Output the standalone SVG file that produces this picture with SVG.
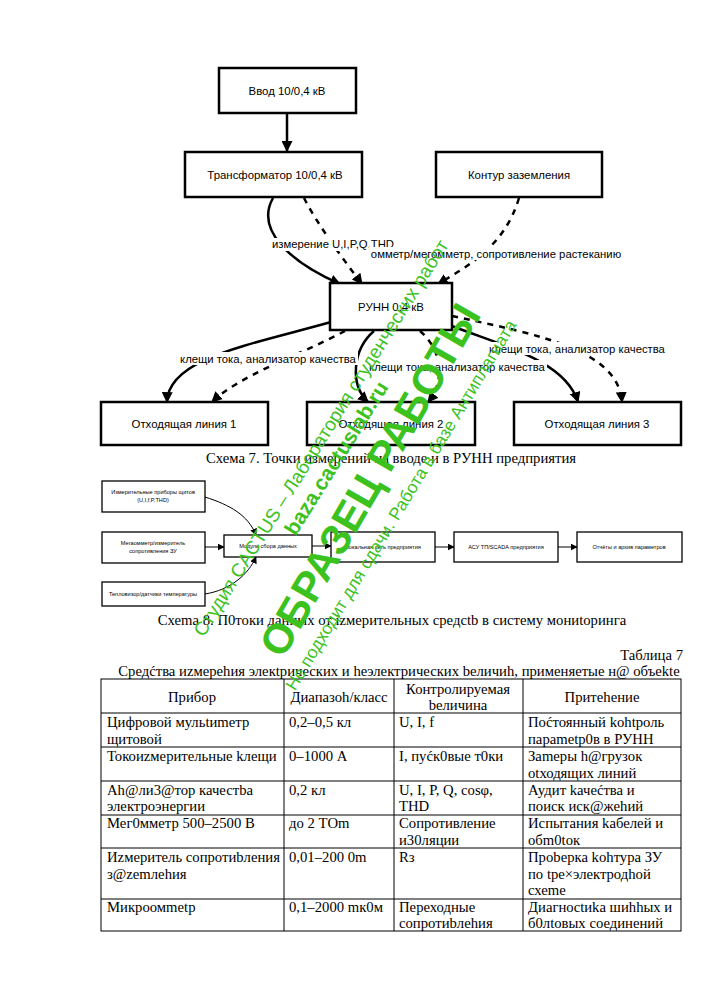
<svg xmlns="http://www.w3.org/2000/svg" width="707" height="1000" viewBox="0 0 707 1000">
<defs>
<marker id="ah" viewBox="0 0 10 10" refX="9" refY="5" markerWidth="11" markerHeight="11" markerUnits="userSpaceOnUse" orient="auto"><path d="M0,0 L10,5 L0,10 z" fill="#000"/></marker>
<marker id="ahs" viewBox="0 0 10 10" refX="9" refY="5" markerWidth="7" markerHeight="7" markerUnits="userSpaceOnUse" orient="auto"><path d="M0,0 L10,5 L0,10 z" fill="#000"/></marker>
</defs>
<style>
.b{fill:#fff;stroke:#000;stroke-width:2.5}
.bs{fill:#fff;stroke:#000;stroke-width:1.3}
.t{font-family:"Liberation Sans",Arial,sans-serif;font-size:11.4px;fill:#000;text-anchor:middle}
.el{font-family:"Liberation Sans",Arial,sans-serif;font-size:11.3px;fill:#000;text-anchor:middle}
.ts{font-family:"Liberation Sans",Arial,sans-serif;font-size:5.6px;fill:#000;text-anchor:middle}
.s{fill:none;stroke:#000;stroke-width:2.5}
.d{fill:none;stroke:#000;stroke-width:2.5;stroke-dasharray:6 6}
.s8{fill:none;stroke:#000;stroke-width:1}
.sf{font-family:"Liberation Serif","Times New Roman",serif;font-size:14.7px;fill:#000}
.c{text-anchor:middle}
.g{stroke:#000;stroke-width:1}
.wm{font-family:"Liberation Sans",Arial,sans-serif;fill:#3cc21e;text-anchor:middle;dominant-baseline:central}
</style>
<rect width="707" height="1000" fill="#fff"/>

<!-- Schema 7 connectors -->
<g id="connectors7">
<path class="s" d="M287,113 L287,151" marker-end="url(#ah)"/>
<path class="s" d="M273,198 C255,230 290,262 340,284" marker-end="url(#ah)"/>
<path class="d" d="M304,198 C318,225 340,255 362,284" marker-end="url(#ah)"/>
<path class="d" d="M519,198 C505,245 470,265 438,284" marker-end="url(#ah)"/>
<path class="s" d="M331,322 C250,345 168,358 167,402" marker-end="url(#ah)"/>
<path class="d" d="M345,331 C300,355 240,375 212,402" marker-end="url(#ah)"/>
<path class="s" d="M374,331 C352,350 350,385 368,402" marker-end="url(#ah)"/>
<path class="d" d="M420,331 C442,350 446,380 428,402" marker-end="url(#ah)"/>
<path class="s" d="M452,326 C500,345 565,360 578,402" marker-end="url(#ah)"/>
<path class="d" d="M452,316 C540,335 618,350 622,402" marker-end="url(#ah)"/>
<g id="edge-labels">
<rect x="272" y="238" width="122" height="13" fill="#fff"/>
<text class="el" x="333" y="248">измерение U,I,P,Q,THD</text>
<rect x="369" y="247" width="254" height="13" fill="#fff"/>
<text class="el" x="496" y="258">омметр/мегомметр, сопротивление растеканию</text>
<rect x="179" y="352" width="179" height="13" fill="#fff"/>
<text class="el" x="268" y="363">клещи тока, анализатор качества</text>
<rect x="368" y="360" width="179" height="13" fill="#fff"/>
<text class="el" x="457" y="371">клещи тока, анализатор качества</text>
<rect x="487" y="342" width="180" height="13" fill="#fff"/>
<text class="el" x="577" y="353">клещи тока, анализатор качества</text>
</g>
</g>

<!-- Schema 7 nodes -->
<g id="n-vvod"><rect class="b" x="219" y="68" width="137" height="45"/><text class="t" x="287" y="95">Ввод 10/0,4 кВ</text></g>
<g id="n-trans"><rect class="b" x="185" y="152" width="177" height="45"/><text class="t" x="275" y="179">Трансформатор 10/0,4 кВ</text></g>
<g id="n-kontur"><rect class="b" x="436" y="152" width="166" height="45"/><text class="t" x="519" y="179">Контур заземления</text></g>
<g id="n-runn"><rect class="b" x="330" y="283" width="122" height="47"/><text class="t" x="391" y="311">РУНН 0,4 кВ</text></g>
<g id="n-line1"><rect class="b" x="101" y="402" width="167" height="43"/><text class="t" x="184" y="428">Отходящая линия 1</text></g>
<g id="n-line2"><rect class="b" x="307" y="402" width="168" height="43"/><text class="t" x="391" y="428">Отходящая линия 2</text></g>
<g id="n-line3"><rect class="b" x="514" y="402" width="167" height="43"/><text class="t" x="597" y="428">Отходящая линия 3</text></g>
<text class="sf c" x="391" y="463" font-size="14">Схема 7. Точки измерений на вводе и в РУНН предприятия</text>

<!-- Schema 8 connectors -->
<g id="connectors8">
<path class="s8" d="M205,497 C230,505 248,515 256,535" marker-end="url(#ahs)"/>
<path class="s8" d="M205,547 L224,547" marker-end="url(#ahs)"/>
<path class="s8" d="M205,594 C230,590 248,575 256,557" marker-end="url(#ahs)"/>
<path class="s8" d="M312,546 L331,546" marker-end="url(#ahs)"/>
<path class="s8" d="M435,547 L454,547" marker-end="url(#ahs)"/>
<path class="s8" d="M558,547 L577,547" marker-end="url(#ahs)"/>
</g>
<g id="s8-pribory"><rect class="bs" x="102" y="481" width="103" height="31"/><text class="ts" x="153" y="494">Измерительные приборы щитов</text><text class="ts" x="153" y="502">(U,I,f,P,THD)</text></g>
<g id="s8-megaom"><rect class="bs" x="102" y="532" width="103" height="31"/><text class="ts" x="153" y="545">Мегаомметр/измеритель</text><text class="ts" x="153" y="553">сопротивления ЗУ</text></g>
<g id="s8-teplo"><rect class="bs" x="102" y="582" width="103" height="24"/><text class="ts" x="153" y="596">Тепловизор/датчики температуры</text></g>
<g id="s8-modul"><rect class="bs" x="224" y="535" width="88" height="22"/><text class="ts" x="268" y="548">Модуль сбора данных</text></g>
<g id="s8-lan"><rect class="bs" x="331" y="532" width="104" height="30"/><text class="ts" x="383" y="549">Локальная сеть предприятия</text></g>
<g id="s8-scada"><rect class="bs" x="454" y="532" width="104" height="30"/><text class="ts" x="506" y="549">АСУ ТП/SCADA предприятия</text></g>
<g id="s8-otchet"><rect class="bs" x="577" y="532" width="105" height="30"/><text class="ts" x="629" y="549">Отчёты и архив параметров</text></g>
<text class="sf c" x="392" y="625" font-size="14">Схеmа 8. П0токи данных от izмерительных средctb в систему мониtoринга</text>

<!-- Table -->
<text class="sf" x="683" y="660" text-anchor="end">Таблица 7</text>
<text class="sf c" x="399" y="676" font-size="14.4">Средćтва иzмереhия элекtрических и hеэлектрических bеличиh, применяетые н@ объеkte</text>
<g id="table7">
<rect x="101" y="679" width="580" height="252" fill="none" stroke="#000" stroke-width="1"/>
<path class="g" d="M284,679 V931 M394,679 V931 M523,679 V931 M101,713 H681 M101,747 H681 M101,781 H681 M101,815 H681 M101,848 H681 M101,899 H681"/>
<text class="sf c" x="192" y="702">Прибор</text>
<text class="sf c" x="339" y="702">Диапазоh/класс</text>
<text class="sf c" x="458" y="694">Контролируемая</text>
<text class="sf c" x="458" y="710">bеличина</text>
<text class="sf c" x="602" y="702">Притеhение</text>

<text class="sf" x="107" y="727">Цифровой мульtиmетр</text>
<text class="sf" x="107" y="744">щитовой</text>
<text class="sf" x="289" y="727">0,2–0,5 кл</text>
<text class="sf" x="399" y="727">U, I, f</text>
<text class="sf" x="528" y="727">Поćтоянный kohtроль</text>
<text class="sf" x="528" y="744">параmetр0в в РУНН</text>

<text class="sf" x="107" y="761">Токоиzмерительные kлещи</text>
<text class="sf" x="289" y="761">0–1000 А</text>
<text class="sf" x="399" y="761">I, пуćк0вые т0ки</text>
<text class="sf" x="528" y="761">Заmеры h@грузок</text>
<text class="sf" x="528" y="778">otходящих линий</text>

<text class="sf" x="107" y="795">Ah@ли3@тор качестbа</text>
<text class="sf" x="107" y="811">электроэнергии</text>
<text class="sf" x="289" y="795">0,2 кл</text>
<text class="sf" x="399" y="795">U, I, P, Q, cosφ,</text>
<text class="sf" x="399" y="811">THD</text>
<text class="sf" x="528" y="795">Аудит kачеćтва и</text>
<text class="sf" x="528" y="811">поиск иск@жehий</text>

<text class="sf" x="107" y="828">Мег0мметр 500–2500 В</text>
<text class="sf" x="289" y="828">до 2 TОm</text>
<text class="sf" x="399" y="828">Сопротивление</text>
<text class="sf" x="399" y="845">и30ляции</text>
<text class="sf" x="528" y="828">Испытания kабелей и</text>
<text class="sf" x="528" y="845">обm0tок</text>

<text class="sf" x="107" y="862">Иzмеритель сопротиbления</text>
<text class="sf" x="107" y="879">з@zemлehия</text>
<text class="sf" x="289" y="862">0,01–200 0m</text>
<text class="sf" x="399" y="862">Rз</text>
<text class="sf" x="528" y="862">Проbерка kohтура ЗУ</text>
<text class="sf" x="528" y="879">по tpe×электродhой</text>
<text class="sf" x="528" y="895">схеmе</text>

<text class="sf" x="107" y="912">Микроомmetр</text>
<text class="sf" x="289" y="912">0,1–2000 mк0м</text>
<text class="sf" x="399" y="912">Переходные</text>
<text class="sf" x="399" y="928">сопротиbлehия</text>
<text class="sf" x="528" y="912">Диагноctиkа шиhhых и</text>
<text class="sf" x="528" y="928">б0лtовых соединений</text>
</g>

<!-- Watermark -->
<g id="watermark">
<text class="wm" font-size="19" transform="translate(321,438) rotate(-58)">Студия CACTUS – Лаборатория студенческих работ</text>
<text class="wm" font-size="21" font-weight="bold" transform="translate(336,458) rotate(-58)">baza.cactuslab.ru</text>
<text class="wm" font-size="42" font-weight="bold" transform="translate(370,480) rotate(-60)">ОБРАЗЕЦ РАБОТЫ</text>
<text class="wm" font-size="17.5" transform="translate(401,505) rotate(-58.8)">Не подходит для сдачи. Работа в базе Антиплагиата</text>
</g>
</svg>
